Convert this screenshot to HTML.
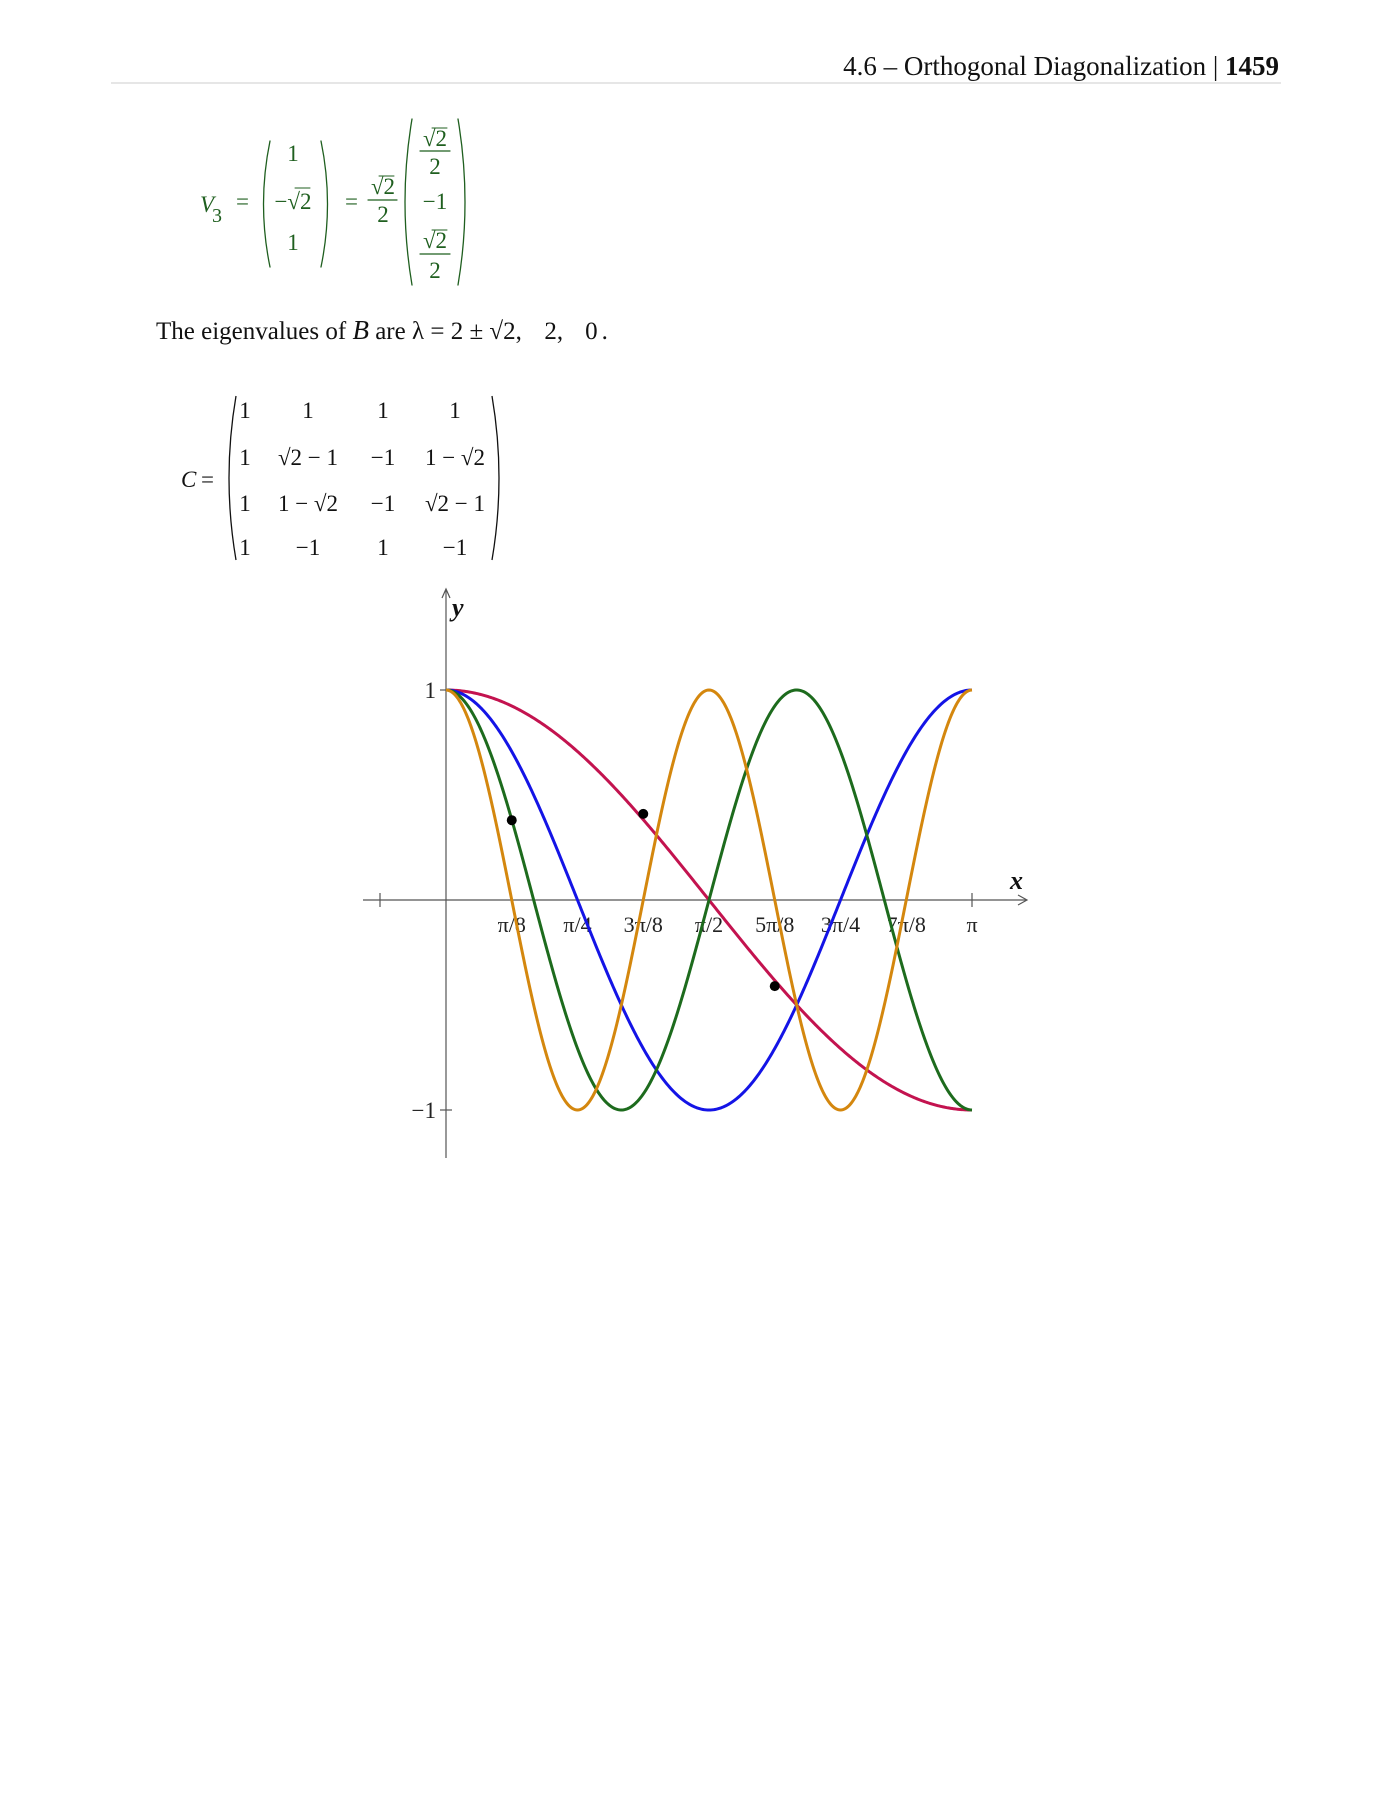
<!DOCTYPE html>
<html><head><meta charset="utf-8"><style>
html,body{margin:0;padding:0;background:#fff}
svg{display:block}
text{font-family:"Liberation Serif",serif}
</style></head><body>
<svg id="page" width="1390" height="1800" viewBox="0 0 1390 1800" xmlns="http://www.w3.org/2000/svg">
<g>
<text x="1279" y="75" text-anchor="end" font-size="27" fill="#111">4.6 – Orthogonal Diagonalization | <tspan font-weight="bold">1459</tspan></text>
<line x1="111" y1="83" x2="1281" y2="83" stroke="#ddd" stroke-width="1.5"/>
</g>
<g fill="#1f5f1f" font-size="23" stroke-linecap="round">
<text x="200" y="212" font-style="italic">V</text><text x="212" y="222" font-size="20">3</text>
<text x="236" y="209">=</text>
<path d="M270,141 Q257,204 270,267" stroke="#1f5f1f" fill="none" stroke-width="1.3"/>
<path d="M321,141 Q334,204 321,267" stroke="#1f5f1f" fill="none" stroke-width="1.3"/>
<text x="293" y="161" text-anchor="middle">1</text>
<text x="293" y="209" text-anchor="middle">−√2</text><line x1="295" y1="188" x2="310" y2="188" stroke="#1f5f1f" stroke-width="1"/>
<text x="293" y="250" text-anchor="middle">1</text>
<text x="345" y="209">=</text>
<text x="383" y="194" text-anchor="middle">√2</text><line x1="379" y1="176" x2="394" y2="176" stroke="#1f5f1f" stroke-width="1"/>
<line x1="368" y1="200" x2="397" y2="200" stroke="#1f5f1f" stroke-width="1.2"/>
<text x="383" y="222" text-anchor="middle">2</text>
<path d="M412,119 Q398,202 412,285" stroke="#1f5f1f" fill="none" stroke-width="1.3"/>
<path d="M458,119 Q472,202 458,285" stroke="#1f5f1f" fill="none" stroke-width="1.3"/>
<text x="435" y="146" text-anchor="middle">√2</text><line x1="432" y1="128" x2="447" y2="128" stroke="#1f5f1f" stroke-width="1"/>
<line x1="420" y1="151" x2="450" y2="151" stroke="#1f5f1f" stroke-width="1.2"/>
<text x="435" y="174" text-anchor="middle">2</text>
<text x="435" y="209" text-anchor="middle">−1</text>
<text x="435" y="248" text-anchor="middle">√2</text><line x1="432" y1="230" x2="447" y2="230" stroke="#1f5f1f" stroke-width="1"/>
<line x1="420" y1="254" x2="450" y2="254" stroke="#1f5f1f" stroke-width="1.2"/>
<text x="435" y="278" text-anchor="middle">2</text>
</g>
<g>
<text x="156" y="339" font-size="25" fill="#111" xml:space="preserve">The eigenvalues of <tspan font-style="italic" font-size="27">B</tspan> are λ = 2 ± √2,  <tspan dx="10">2,</tspan><tspan dx="22">0</tspan><tspan dx="4">.</tspan></text>
</g>
<g font-size="23" fill="#111">
<text x="181" y="487" font-style="italic">C</text><text x="201" y="487">=</text>
<path d="M236,396 Q222,478 236,560" stroke="#111" fill="none" stroke-width="1.3"/>
<path d="M492,396 Q506,478 492,560" stroke="#111" fill="none" stroke-width="1.3"/>
<g text-anchor="middle">
<text x="245" y="418">1</text><text x="308" y="418">1</text><text x="383" y="418">1</text><text x="455" y="418">1</text>
<text x="245" y="465">1</text><text x="308" y="465">√2 − 1</text><text x="383" y="465">−1</text><text x="455" y="465">1 − √2</text>
<text x="245" y="511">1</text><text x="308" y="511">1 − √2</text><text x="383" y="511">−1</text><text x="455" y="511">√2 − 1</text>
<text x="245" y="555">1</text><text x="308" y="555">−1</text><text x="383" y="555">1</text><text x="455" y="555">−1</text>
</g>
</g>
<g id="chart"></g>
</svg>
<script>
const seriesNames = ['cos-x','cos-2x','cos-3x','cos-4x'];
const seriesFreq = [1, 2, 3, 4];
const seriesColors = ['#c3134f','#1414e6','#1d6b1d','#d4870e'];
const tickLabels = ['π/8','π/4','3π/8','π/2','5π/8','3π/4','7π/8','π'];
const tickValues = [1,2,3,4,5,6,7,8];
const dotX = [1, 3, 5];
const dotY = [0.38, 0.41, -0.41];

const NS='http://www.w3.org/2000/svg';
const g=document.getElementById('chart');
const x0=446, xPi=972, y0=900, yUnit=210;
const sx=t=>x0+(xPi-x0)*t/Math.PI;
const sy=v=>y0-v*yUnit;
function mk(tag,attrs){const e=document.createElementNS(NS,tag);for(const k in attrs)e.setAttribute(k,attrs[k]);g.appendChild(e);return e;}
let e;
e=mk('line',{x1:363,y1:y0,x2:1026,y2:y0,stroke:'#555','stroke-width':1.2});


e=mk('path',{d:`M1018,${y0-5} L1027,${y0} L1018,${y0+5}`,stroke:'#555',fill:'none','stroke-width':1.2});


e=mk('line',{x1:x0,y1:1158,x2:x0,y2:590,stroke:'#555','stroke-width':1.2});


e=mk('path',{d:`M${x0-4},598 L${x0},589 L${x0+4},598`,stroke:'#555',fill:'none','stroke-width':1.2});


e=mk('line',{x1:380,y1:y0-7,x2:380,y2:y0+7,stroke:'#555','stroke-width':1.2});


tickValues.forEach((v,i)=>{
  const x=sx(v*Math.PI/8);
  if(i===tickValues.length-1){
    const t=mk('line',{x1:x,y1:y0-7,x2:x,y2:y0+7,stroke:'#555','stroke-width':1.2});
    
    
  }
  const l=mk('text',{x:x,y:932,'text-anchor':'middle','font-size':22,fill:'#222'});
  l.textContent=tickLabels[i];
  
  
});
[[1,'1'],[-1,'−1']].forEach(([v,s])=>{
  const t=mk('line',{x1:x0-6,y1:sy(v),x2:x0+6,y2:sy(v),stroke:'#555','stroke-width':1.2});
  
  
  const l=mk('text',{x:x0-10,y:sy(v)+8,'text-anchor':'end','font-size':23,fill:'#222'});
  l.textContent=s;
  
  
});
e=mk('text',{x:1010,y:889,'font-size':26,'font-style':'italic','font-weight':'bold',fill:'#111'});e.textContent='x';


e=mk('text',{x:452,y:616,'font-size':26,'font-style':'italic','font-weight':'bold',fill:'#111'});e.textContent='y';


seriesFreq.forEach((f,i)=>{
  let d='';
  for(let k=0;k<=400;k++){const t=Math.PI*k/400;d+=(k?'L':'M')+sx(t).toFixed(2)+','+sy(Math.cos(f*t)).toFixed(2);}
  const p=mk('path',{d:d,fill:'none',stroke:seriesColors[i],'stroke-width':3});
  
  
});
dotX.forEach((v,i)=>{
  const c=mk('circle',{cx:sx(v*Math.PI/8),cy:sy(dotY[i]),r:5,fill:'#000'});
  
  
});
</script>
</body></html>
